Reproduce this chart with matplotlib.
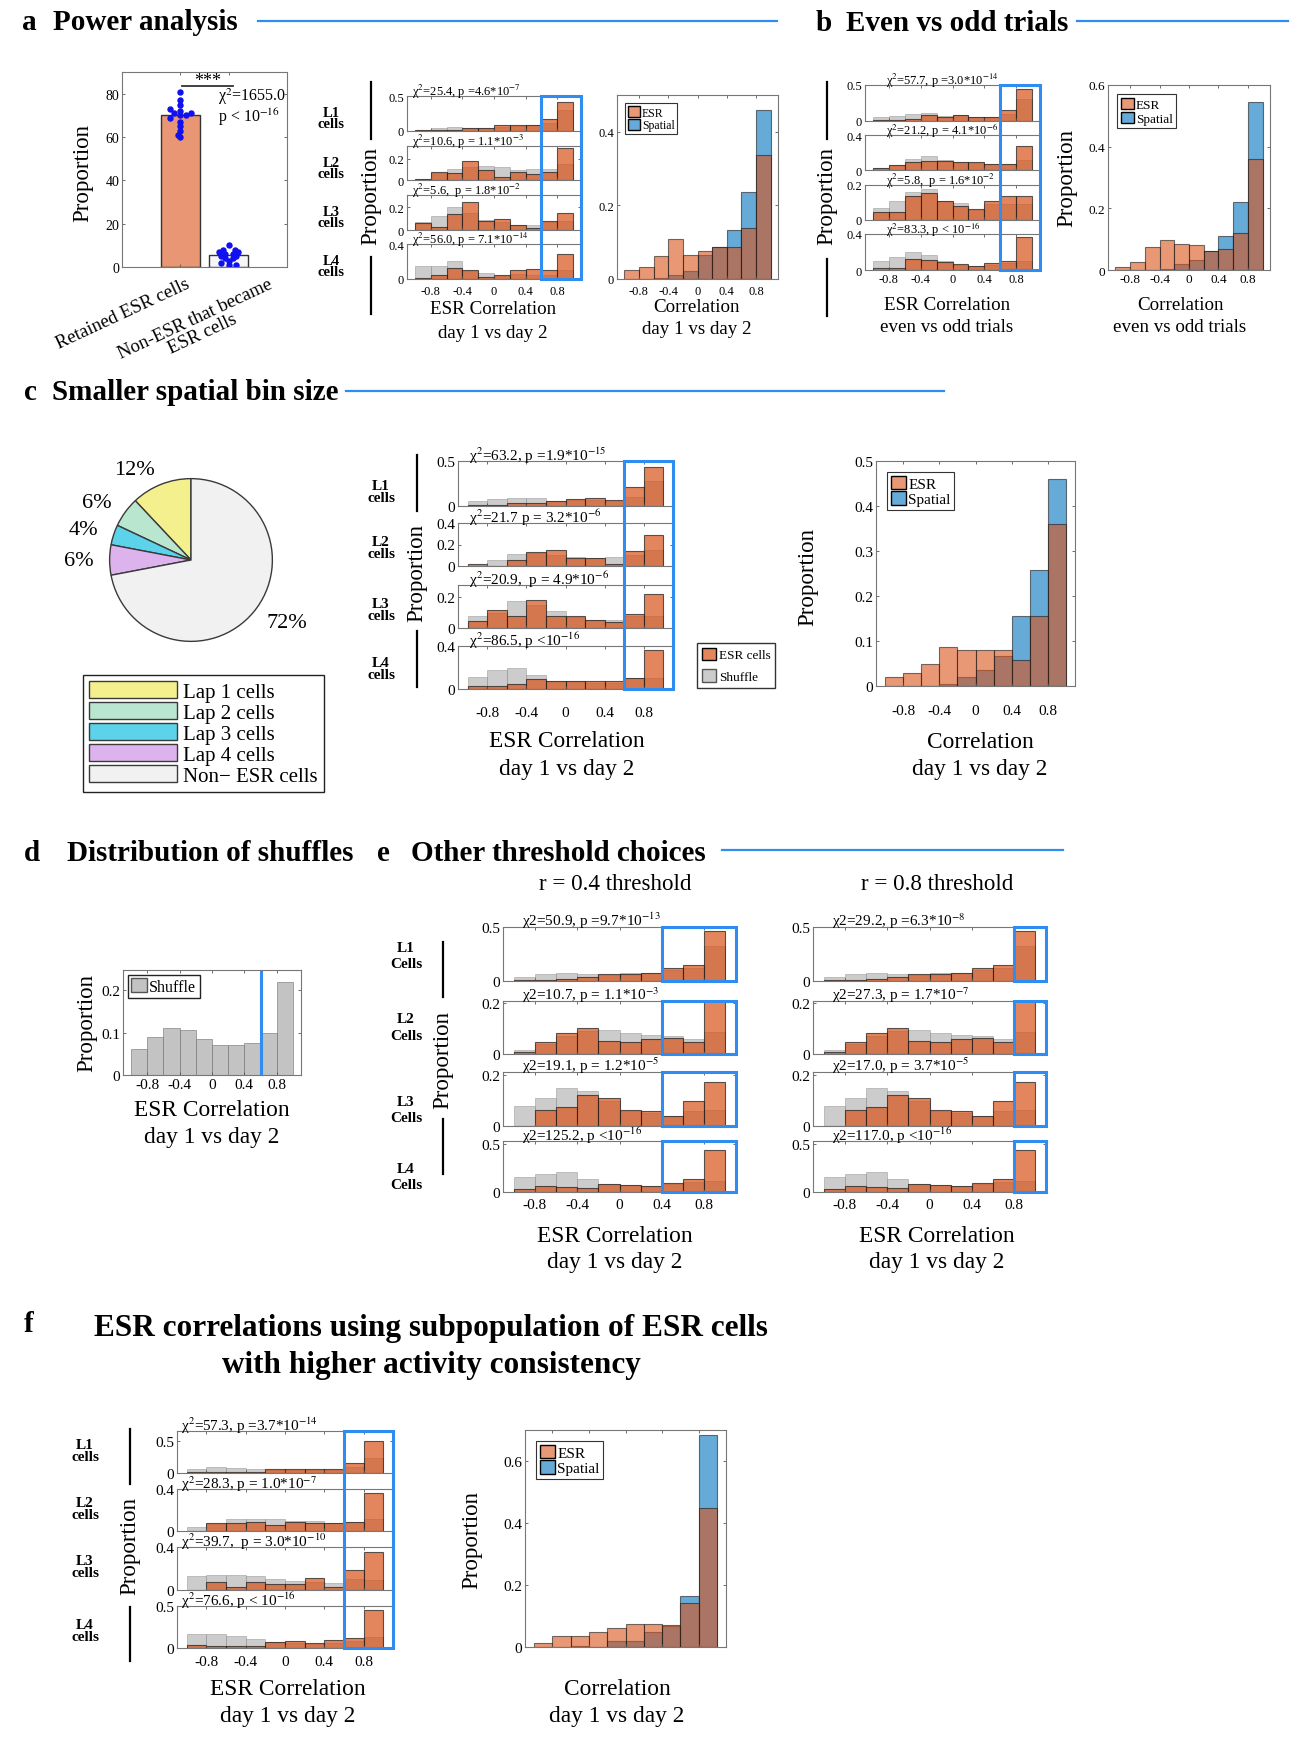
import matplotlib
matplotlib.use('Agg')
import matplotlib.pyplot as plt
from matplotlib.patches import Rectangle, Patch
from matplotlib.lines import Line2D
from matplotlib.colors import to_rgba
from matplotlib.transforms import blended_transform_factory

plt.rcParams['font.family'] = ['Liberation Serif', 'DejaVu Serif']
plt.rcParams['mathtext.fontset'] = 'stix'
plt.rcParams['axes.unicode_minus'] = False

# ---------------- data ----------------
bin_left = [-1.0, -0.8, -0.6, -0.4, -0.2, 0.0, 0.2, 0.4, 0.6, 0.8]
corr_ticks = [-0.8, -0.4, 0, 0.4, 0.8]

# a: power analysis
groups = ['Retained ESR cells', 'Non-ESR that became\nESR cells']
group_means = [70, 5.5]
retained_pts = [81, 77, 75, 73, 72, 71, 71, 70, 70, 69, 67, 65, 63, 61, 60]
became_pts = [10, 8, 8, 7, 7, 6, 6, 5, 5, 4, 4, 3, 2, 1, 1]

a_esr = [[0.02, 0.01, 0.01, 0.04, 0.05, 0.09, 0.085, 0.09, 0.17, 0.42],
         [0.013, 0.08, 0.07, 0.18, 0.094, 0.03, 0.08, 0.055, 0.08, 0.30],
         [0.062, 0.03, 0.14, 0.246, 0.083, 0.10, 0.046, 0.015, 0.077, 0.154],
         [0.01, 0.045, 0.125, 0.107, 0.02, 0.045, 0.107, 0.12, 0.107, 0.286]]
a_shuf = [[0.02, 0.045, 0.06, 0.05, 0.05, 0.06, 0.07, 0.08, 0.12, 0.30],
          [0.01, 0.07, 0.10, 0.12, 0.135, 0.12, 0.09, 0.10, 0.10, 0.15],
          [0.07, 0.12, 0.20, 0.15, 0.09, 0.07, 0.04, 0.045, 0.07, 0.08],
          [0.15, 0.15, 0.21, 0.09, 0.065, 0.04, 0.06, 0.05, 0.05, 0.10]]
a_ylims = [0.5, 0.32, 0.31, 0.4]
a_yticks = [[0, 0.5], [0, 0.2], [0, 0.2], [0, 0.4]]
a_chi = ['χ$^2$=25.4, p =4.6*10$^{-7}$', 'χ$^2$=10.6, p = 1.1*10$^{-3}$',
         'χ$^2$=5.6,  p = 1.8*10$^{-2}$', 'χ$^2$=56.0, p = 7.1*10$^{-14}$']
a_esr_all = [0.025, 0.032, 0.062, 0.109, 0.065, 0.076, 0.086, 0.086, 0.138, 0.338]
a_spatial = [0, 0, 0.002, 0.01, 0.022, 0.064, 0.086, 0.134, 0.236, 0.459]

# b: even vs odd trials
b_esr = [[0.01, 0.01, 0.03, 0.085, 0.06, 0.09, 0.06, 0.06, 0.15, 0.44],
         [0.026, 0.057, 0.094, 0.106, 0.106, 0.087, 0.094, 0.068, 0.068, 0.275],
         [0.046, 0.046, 0.138, 0.154, 0.11, 0.08, 0.062, 0.106, 0.138, 0.138],
         [0.02, 0.026, 0.12, 0.109, 0.094, 0.064, 0.045, 0.075, 0.10, 0.363]]
b_shuf = [[0.055, 0.07, 0.10, 0.115, 0.07, 0.08, 0.06, 0.06, 0.10, 0.30],
          [0.02, 0.06, 0.125, 0.16, 0.12, 0.09, 0.08, 0.07, 0.07, 0.12],
          [0.067, 0.11, 0.16, 0.177, 0.11, 0.096, 0.06, 0.09, 0.09, 0.09],
          [0.10, 0.146, 0.20, 0.165, 0.10, 0.06, 0.04, 0.06, 0.08, 0.10]]
b_ylims = [0.5, 0.4, 0.2, 0.4]
b_yticks = [[0, 0.5], [0, 0.4], [0, 0.2], [0, 0.4]]
b_chi = ['χ$^2$=57.7, p =3.0*10$^{-14}$', 'χ$^2$=21.2, p = 4.1*10$^{-6}$',
         'χ$^2$=5.8,  p = 1.6*10$^{-2}$', 'χ$^2$=83.3, p < 10$^{-16}$']
b_esr_all = [0.011, 0.027, 0.076, 0.098, 0.083, 0.081, 0.061, 0.067, 0.119, 0.36]
b_spatial = [0, 0, 0, 0.003, 0.02, 0.031, 0.061, 0.11, 0.222, 0.544]

# c: smaller spatial bin size
pie_labels = ['Lap 1 cells', 'Lap 2 cells', 'Lap 3 cells', 'Lap 4 cells', 'Non\u2212 ESR cells']
pie_pct = [12, 6, 4, 6, 72]
pie_colors = ['#F5F08E', '#B8E6CE', '#5CD3EA', '#DDB3EE', '#F1F1F1']

c_esr = [[0.01, 0.01, 0.03, 0.038, 0.056, 0.075, 0.086, 0.068, 0.207, 0.43],
         [0.022, 0.0, 0.052, 0.13, 0.145, 0.077, 0.077, 0.022, 0.135, 0.29],
         [0.043, 0.118, 0.077, 0.183, 0.077, 0.077, 0.054, 0.039, 0.088, 0.22],
         [0.028, 0.031, 0.046, 0.092, 0.071, 0.071, 0.071, 0.071, 0.098, 0.36]]
c_shuf = [[0.056, 0.075, 0.094, 0.086, 0.06, 0.07, 0.07, 0.06, 0.10, 0.28],
          [0.0, 0.06, 0.114, 0.12, 0.10, 0.08, 0.07, 0.083, 0.10, 0.145],
          [0.075, 0.10, 0.178, 0.15, 0.108, 0.07, 0.05, 0.05, 0.08, 0.08],
          [0.108, 0.175, 0.20, 0.13, 0.07, 0.07, 0.06, 0.06, 0.10, 0.10]]
c_ylims = [0.5, 0.4, 0.28, 0.4]
c_yticks = [[0, 0.5], [0, 0.2, 0.4], [0, 0.2], [0, 0.4]]
c_chi = ['χ$^2$=63.2, p =1.9*10$^{-15}$', 'χ$^2$=21.7 p = 3.2*10$^{-6}$',
         'χ$^2$=20.9,  p = 4.9*10$^{-6}$', 'χ$^2$=86.5, p <10$^{-16}$']
c_esr_all = [0.02, 0.03, 0.048, 0.087, 0.079, 0.079, 0.081, 0.058, 0.156, 0.36]
c_spatial = [0, 0, 0, 0.004, 0.021, 0.036, 0.067, 0.156, 0.257, 0.46]

# d: distribution of shuffles
d_shuffle = [0.062, 0.09, 0.112, 0.106, 0.084, 0.072, 0.072, 0.076, 0.10, 0.22]
d_threshold = 0.6

# e: other thresholds
thresholds = [0.4, 0.8]
e_esr = [[0.01, 0.01, 0.022, 0.04, 0.062, 0.062, 0.072, 0.12, 0.15, 0.46],
         [0.006, 0.048, 0.081, 0.10, 0.052, 0.048, 0.058, 0.064, 0.045, 0.24],
         [0.0, 0.064, 0.073, 0.124, 0.11, 0.063, 0.06, 0.04, 0.097, 0.173],
         [0.034, 0.059, 0.052, 0.041, 0.086, 0.069, 0.059, 0.097, 0.138, 0.44]]
e_shuf = [[0.04, 0.062, 0.078, 0.062, 0.06, 0.07, 0.07, 0.10, 0.12, 0.32],
          [0.017, 0.04, 0.07, 0.09, 0.094, 0.081, 0.075, 0.07, 0.06, 0.084],
          [0.08, 0.11, 0.15, 0.14, 0.10, 0.06, 0.05, 0.04, 0.06, 0.063],
          [0.155, 0.19, 0.207, 0.138, 0.08, 0.07, 0.06, 0.08, 0.10, 0.11]]
e_ylims = [0.5, 0.206, 0.213, 0.53]
e_yticks = [[0, 0.5], [0, 0.2], [0, 0.2], [0, 0.5]]
e_chi_04 = ['χ2=50.9, p =9.7*10$^{-13}$', 'χ2=10.7, p = 1.1*10$^{-3}$',
            'χ2=19.1, p = 1.2*10$^{-5}$', 'χ2=125.2, p <10$^{-16}$']
e_chi_08 = ['χ2=29.2, p =6.3*10$^{-8}$', 'χ2=27.3, p = 1.7*10$^{-7}$',
            'χ2=17.0, p = 3.7*10$^{-5}$', 'χ2=117.0, p <10$^{-16}$']

# f: subpopulation with higher activity consistency
f_esr = [[0.01, 0.01, 0.02, 0.02, 0.06, 0.06, 0.06, 0.06, 0.155, 0.50],
         [0.0, 0.075, 0.075, 0.085, 0.054, 0.085, 0.075, 0.075, 0.085, 0.363],
         [0.0, 0.079, 0.032, 0.079, 0.054, 0.054, 0.11, 0.032, 0.19, 0.353],
         [0.04, 0.028, 0.028, 0.028, 0.067, 0.079, 0.055, 0.094, 0.114, 0.45]]
f_shuf = [[0.06, 0.088, 0.077, 0.06, 0.05, 0.05, 0.05, 0.05, 0.09, 0.23],
          [0.038, 0.07, 0.117, 0.117, 0.11, 0.10, 0.10, 0.08, 0.09, 0.11],
          [0.126, 0.139, 0.142, 0.126, 0.10, 0.08, 0.07, 0.063, 0.10, 0.095],
          [0.165, 0.165, 0.146, 0.106, 0.07, 0.06, 0.05, 0.06, 0.08, 0.13]]
f_ylims = [0.65, 0.4, 0.4, 0.5]
f_yticks = [[0, 0.5], [0, 0.4], [0, 0.4], [0, 0.5]]
f_chi = ['χ$^2$=57.3, p =3.7*10$^{-14}$', 'χ$^2$=28.3, p = 1.0*10$^{-7}$',
         'χ$^2$=39.7,  p = 3.0*10$^{-10}$', 'χ$^2$=76.6, p < 10$^{-16}$']
f_esr_all = [0.013, 0.034, 0.034, 0.05, 0.062, 0.075, 0.075, 0.07, 0.143, 0.45]
f_spatial = [0, 0, 0.003, 0, 0.019, 0.019, 0.048, 0.068, 0.166, 0.683]

# ---------------- style ----------------
ORANGE = '#D95319'
GRAY = '#A3A3A3'
BLUE = '#0072BD'
BOXBLUE = '#2F8CF0'
TITLE_FS = 21
W, H = 1290, 1740

fig = plt.figure(figsize=(W / 100, H / 100), dpi=100)


def add_ax(l, t, r, b):
    # pixel box (top-left origin) -> figure fraction
    return fig.add_axes([l / W, 1 - b / H, (r - l) / W, (b - t) / H])


def ftext(x, y, s, **kw):
    return fig.text(x / W, 1 - y / H, s, **kw)


def fline(x0, y0, x1, y1, color='k', lw=1.5):
    fig.add_artist(Line2D([x0 / W, x1 / W], [1 - y0 / H, 1 - y1 / H], color=color, lw=lw))


def style(ax, fs, xpad=3):
    for s in ax.spines.values():
        s.set_color('#777777')
        s.set_linewidth(0.8)
    ax.tick_params(direction='in', length=2.5, width=0.6, top=True, right=True,
                   labelsize=fs, color='#555555')
    ax.tick_params(axis='y', pad=2)
    ax.tick_params(axis='x', pad=xpad)


def title(lx, tx, y, letter, text, line=None):
    ftext(lx, y, letter, fontsize=TITLE_FS, fontweight='bold', va='baseline')
    ftext(tx, y, text, fontsize=TITLE_FS, fontweight='bold', va='baseline')
    if line:
        fline(line[0], line[2], line[1], line[2], color=BOXBLUE, lw=1.6)


def stacked(left, right, tops, bottoms, esr, shuf, ylims, yticks, chis, fs, chi_fs, chi_x, xpad):
    axes = []
    for i in range(4):
        ax = add_ax(left, tops[i], right, bottoms[i])
        ax.bar(bin_left, shuf[i], width=0.2, align='edge', color=GRAY, alpha=0.55,
               edgecolor='#8c8c8c', linewidth=0.6)
        ax.bar(bin_left, esr[i], width=0.2, align='edge', color=ORANGE, alpha=0.7,
               edgecolor='#1a1a1a', linewidth=0.8)
        ax.set_xlim(-1.1, 1.1)
        ax.set_ylim(0, ylims[i])
        ax.set_yticks(yticks[i])
        ax.set_yticklabels([f'{v:g}' for v in yticks[i]])
        ax.set_xticks(corr_ticks)
        ax.set_xticklabels([f'{v:g}' for v in corr_ticks])
        style(ax, fs, xpad)
        if i < 3:
            ax.tick_params(labelbottom=False)
        ax.text(chi_x, 1.03, chis[i], transform=ax.transAxes, ha='left', va='baseline',
                fontsize=chi_fs)
        axes.append(ax)
    return axes


def span_box(axes, x0, x1):
    inv = fig.transFigure.inverted()
    fx0 = inv.transform(axes[0].transData.transform((x0, 0)))[0]
    fx1 = inv.transform(axes[0].transData.transform((x1, 0)))[0]
    y1 = axes[0].get_position().y1
    y0 = axes[-1].get_position().y0
    fig.add_artist(Rectangle((fx0, y0), fx1 - fx0, y1 - y0, transform=fig.transFigure,
                             fill=False, edgecolor=BOXBLUE, linewidth=2.2, zorder=10))


def row_box(ax, x0, x1):
    tr = blended_transform_factory(ax.transData, ax.transAxes)
    ax.add_patch(Rectangle((x0, 0), x1 - x0, 1, transform=tr, fill=False,
                           edgecolor=BOXBLUE, linewidth=2.2, clip_on=False, zorder=10))


def row_labels(x, ys, word, fs, spacing):
    for i, y in enumerate(ys):
        ftext(x, y, f'L{i + 1}\n{word}', fontsize=fs, fontweight='bold', ha='center',
              va='center', linespacing=spacing)


def prop_label(x, y, segs, fs=16.5):
    ftext(x, y, 'Proportion', fontsize=fs, rotation=90, ha='center', va='center')
    for y0, y1 in segs:
        fline(x, y0, x, y1, lw=1.6)


def esr_spatial(l, t, r, b, esr, spatial, ymax, yticks, fs, leg_fs, xpad, show_x=True):
    ax = add_ax(l, t, r, b)
    ax.bar(bin_left, spatial, width=0.2, align='edge', color=BLUE, alpha=0.6,
           edgecolor='#1a1a1a', linewidth=0.8)
    ax.bar(bin_left, esr, width=0.2, align='edge', color=ORANGE, alpha=0.6,
           edgecolor='#1a1a1a', linewidth=0.8)
    ax.set_xlim(-1.1, 1.1)
    ax.set_ylim(0, ymax)
    ax.set_yticks(yticks)
    ax.set_yticklabels([f'{v:g}' for v in yticks])
    ax.set_xticks(corr_ticks)
    ax.set_xticklabels([f'{v:g}' for v in corr_ticks] if show_x else [])
    style(ax, fs, xpad)
    handles = [Patch(facecolor=to_rgba(ORANGE, 0.6), edgecolor='k'),
               Patch(facecolor=to_rgba(BLUE, 0.6), edgecolor='k')]
    leg = ax.legend(handles, ['ESR', 'Spatial'], loc='upper left', fontsize=leg_fs,
                    fancybox=False, edgecolor='#333333', framealpha=1, handlelength=1.0,
                    handleheight=1.0, handletextpad=0.15, borderpad=0.25,
                    labelspacing=0.05, borderaxespad=0.7)
    leg.get_frame().set_linewidth(0.8)
    return ax


# ================= panel a =================
title(22, 53, 30, 'a', 'Power analysis', (258, 777, 22))

ax = add_ax(122, 73, 287, 268)
ax.bar([1, 2], group_means, width=0.8, color=['#E89673', '#F6F6F6'],
       edgecolor='#333333', linewidth=1.0)
retained_jit = [0.0, 0.0, 0.0, -0.22, 0.0, 0.22, -0.12, 0.12, 0.0, -0.22, 0.0, 0.0, 0.0, -0.04, 0.0]
became_jit = [0.0, -0.12, 0.12, -0.2, 0.2, -0.08, 0.08, -0.15, 0.15, -0.08, 0.08, 0.0, -0.15, 0.15, 0.0]
ax.plot([1 + j for j in retained_jit], retained_pts, 'o', color='#1010F0', ms=3.6)
ax.plot([2 + j for j in became_jit], became_pts, 'o', color='#1010F0', ms=3.6)
ax.plot([1.04, 2.08], [83.5, 83.5], color='#333333', lw=1.3)
ax.text(1.56, 86.3, '***', ha='center', va='center', fontsize=13)
ax.text(1.77, 79, 'χ$^2$=1655.0', ha='left', va='center', fontsize=11.5)
ax.text(1.77, 69.5, 'p < 10$^{-16}$', ha='left', va='center', fontsize=11.5)
ax.set_xlim(-0.2, 3.2)
ax.set_ylim(0, 90)
ax.set_yticks([0, 20, 40, 60, 80])
ax.set_xticks([1, 2])
ax.set_xticklabels([])
style(ax, 10)
ftext(83, 173, 'Proportion', fontsize=16.5, rotation=90, ha='center', va='center')
ftext(185, 276, groups[0], fontsize=13.5, rotation=25, rotation_mode='anchor',
      ha='right', va='top')
ftext(199, 327, groups[1], fontsize=13.5, rotation=25, rotation_mode='anchor',
      ha='center', va='center', multialignment='center', linespacing=1.0)

a_axes = stacked(407, 581, [97, 147, 196, 245], [132, 181, 231, 280], a_esr, a_shuf,
                 a_ylims, a_yticks, a_chi, 9, 9, 0.03, 4)
span_box(a_axes, 0.6, 1.1)
row_labels(331, [119, 169, 218, 267], 'cells', 10.5, 0.85)
prop_label(371, 196, [(83, 140), (258, 315)])
ftext(493, 310, 'ESR Correlation', fontsize=13.7, ha='center', va='center')
ftext(493, 333, 'day 1 vs day 2', fontsize=13.7, ha='center', va='center')

esr_spatial(617, 96, 778, 280, a_esr_all, a_spatial, 0.5, [0, 0.2, 0.4], 9, 8.5, 4)
ftext(697, 307, 'Correlation', fontsize=13.7, ha='center', va='center')
ftext(697, 330, 'day 1 vs day 2', fontsize=13.7, ha='center', va='center')

# ================= panel b =================
title(816, 846, 31, 'b', 'Even vs odd trials', (1077, 1288, 22))
b_axes = stacked(865, 1040, [86, 136, 186, 235], [122, 171, 221, 271], b_esr, b_shuf,
                 b_ylims, b_yticks, b_chi, 9, 9, 0.12, 2)
span_box(b_axes, 0.6, 1.1)
prop_label(827, 196, [(83, 140), (260, 317)])
ftext(947, 306, 'ESR Correlation', fontsize=13.7, ha='center', va='center')
ftext(947, 328, 'even vs odd trials', fontsize=13.7, ha='center', va='center')

esr_spatial(1108, 86, 1270, 271, b_esr_all, b_spatial, 0.6, [0, 0.2, 0.4, 0.6], 9.5, 9.5, 2)
ftext(1067, 178, 'Proportion', fontsize=16.5, rotation=90, ha='center', va='center')
ftext(1180, 306, 'Correlation', fontsize=13.7, ha='center', va='center')
ftext(1180, 328, 'even vs odd trials', fontsize=13.7, ha='center', va='center')

# ================= panel c =================
title(24, 52, 400, 'c', 'Smaller spatial bin size', (346, 944, 392))

ax = add_ax(108, 478, 274, 644)
wedges, texts = ax.pie(pie_pct, colors=pie_colors, startangle=90, counterclock=True,
                       labels=[f'{p}%' for p in pie_pct], labeldistance=1.2,
                       wedgeprops=dict(edgecolor='#3a3a3a', linewidth=1.0),
                       textprops=dict(fontsize=16))
ax.set_xlim(-1.02, 1.02)
ax.set_ylim(-1.02, 1.02)
fig.legend(wedges, pie_labels, loc='upper left', bbox_to_anchor=(83 / W, 1 - 676 / H),
           fontsize=15, fancybox=False, edgecolor='#222222', framealpha=1,
           handlelength=4.2, handleheight=0.85, handletextpad=0.3, borderpad=0.3,
           labelspacing=0.02, borderaxespad=0)

c_axes = stacked(458, 673, [462, 524, 586, 647], [507, 567, 629, 690], c_esr, c_shuf,
                 c_ylims, c_yticks, c_chi, 11, 11, 0.05, 12)
span_box(c_axes, 0.6, 1.1)
row_labels(381, [492, 549, 610, 670], 'cells', 11, 0.9)
prop_label(417, 573, [(456, 512), (632, 688)])
ftext(567, 742, 'ESR Correlation', fontsize=16.8, ha='center', va='center')
ftext(567, 770, 'day 1 vs day 2', fontsize=16.8, ha='center', va='center')
leg = fig.legend([Patch(facecolor=to_rgba(ORANGE, 0.7), edgecolor='k'),
                  Patch(facecolor=to_rgba(GRAY, 0.55), edgecolor='#555555')],
                 ['ESR cells', 'Shuffle'], loc='upper left',
                 bbox_to_anchor=(697 / W, 1 - 644 / H), fontsize=9.5, fancybox=False,
                 edgecolor='#333333', framealpha=1, handlelength=1.1, handleheight=1.1,
                 handletextpad=0.2, borderpad=0.35, labelspacing=0.6, borderaxespad=0)

esr_spatial(876, 462, 1075, 687, c_esr_all, c_spatial, 0.5, [0, 0.1, 0.2, 0.3, 0.4, 0.5],
            11, 11, 13)
ftext(808, 577, 'Proportion', fontsize=16.5, rotation=90, ha='center', va='center')
ftext(980, 743, 'Correlation', fontsize=16.8, ha='center', va='center')
ftext(980, 770, 'day 1 vs day 2', fontsize=16.8, ha='center', va='center')

# ================= panel d =================
title(24, 67, 861, 'd', 'Distribution of shuffles')
ax = add_ax(123, 971, 301, 1076)
ax.bar(bin_left, d_shuffle, width=0.2, align='edge', color=GRAY, alpha=0.65,
       edgecolor='#7a7a7a', linewidth=0.7)
ax.axvline(d_threshold, color=BOXBLUE, lw=2.2)
ax.set_xlim(-1.1, 1.1)
ax.set_ylim(0, 0.248)
ax.set_yticks([0, 0.1, 0.2])
ax.set_yticklabels(['0', '0.1', '0.2'])
ax.set_xticks(corr_ticks)
ax.set_xticklabels([f'{v:g}' for v in corr_ticks])
style(ax, 11, 2)
leg = ax.legend([Patch(facecolor=to_rgba(GRAY, 0.65), edgecolor='#555555')], ['Shuffle'],
                loc='upper left', fontsize=11.5, fancybox=False, edgecolor='#222222',
                framealpha=1, handlelength=1.0, handleheight=1.0, handletextpad=0.15,
                borderpad=0.2, borderaxespad=0.3)
ftext(87, 1023, 'Proportion', fontsize=16.5, rotation=90, ha='center', va='center')
ftext(212, 1110, 'ESR Correlation', fontsize=16.8, ha='center', va='center')
ftext(212, 1138, 'day 1 vs day 2', fontsize=16.8, ha='center', va='center')

# ================= panel e =================
title(377, 411, 861, 'e', 'Other threshold choices', (722, 1063, 851))
e_tops = [928, 1002, 1073, 1142]
e_bottoms = [982, 1055, 1127, 1193]
for (l, r, cx), thr, chis in zip([(503, 736, 615), (813, 1046, 937)], thresholds,
                                 [e_chi_04, e_chi_08]):
    ftext(cx, 885, f'r = {thr:g} threshold', fontsize=16.6, ha='center', va='center')
    e_axes = stacked(l, r, e_tops, e_bottoms, e_esr, e_shuf, e_ylims, e_yticks, chis,
                     11, 11, 0.08, 4)
    for a_ in e_axes:
        row_box(a_, thr, 1.1)
    ftext(cx, 1237, 'ESR Correlation', fontsize=16.8, ha='center', va='center')
    ftext(cx, 1263, 'day 1 vs day 2', fontsize=16.8, ha='center', va='center')
row_labels(406, [957, 1028, 1110, 1178], 'Cells', 11, 1.3)
prop_label(443, 1060, [(943, 998), (1120, 1175)])

# ================= panel f =================
ftext(24, 1332, 'f', fontsize=TITLE_FS, fontweight='bold', va='baseline')
ftext(431, 1336, 'ESR correlations using subpopulation of ESR cells', fontsize=22.5,
      fontweight='bold', ha='center', va='baseline')
ftext(431, 1373, 'with higher activity consistency', fontsize=22.5, fontweight='bold',
      ha='center', va='baseline')

f_axes = stacked(177, 393, [1432, 1490, 1548, 1607], [1474, 1532, 1591, 1649], f_esr, f_shuf,
                 f_ylims, f_yticks, f_chi, 11, 11, 0.02, 5)
span_box(f_axes, 0.6, 1.1)
row_labels(85, [1452, 1510, 1568, 1632], 'cells', 11, 0.9)
prop_label(130, 1546, [(1430, 1485), (1608, 1662)])
ftext(288, 1690, 'ESR Correlation', fontsize=16.8, ha='center', va='center')
ftext(288, 1717, 'day 1 vs day 2', fontsize=16.8, ha='center', va='center')

esr_spatial(525, 1431, 726, 1648, f_esr_all, f_spatial, 0.70, [0, 0.2, 0.4, 0.6], 11, 11, 4,
            show_x=False)
ftext(472, 1540, 'Proportion', fontsize=16.5, rotation=90, ha='center', va='center')
ftext(617, 1690, 'Correlation', fontsize=16.8, ha='center', va='center')
ftext(617, 1717, 'day 1 vs day 2', fontsize=16.8, ha='center', va='center')

fig.savefig('out.png', dpi=100, facecolor='white')
